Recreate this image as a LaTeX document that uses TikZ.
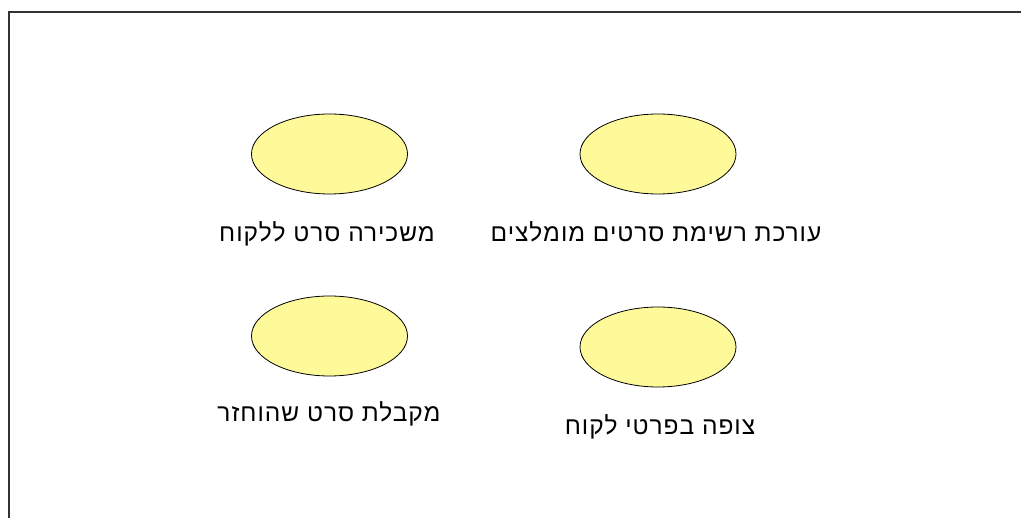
\documentclass[tikz,border=0pt]{standalone}
\usepackage{fontspec}
\newfontfamily\hebfont[Script=Hebrew,LetterSpace=4]{Liberation Sans}
\TeXXeTstate=1
\usetikzlibrary{shapes.geometric}
\begin{document}
\begin{tikzpicture}[x=1pt,y=-1pt,
  usecase/.style={ellipse,draw=black,line width=0.8pt,fill=yellow!40!white,
    minimum width=156pt,minimum height=80pt,inner sep=0pt},
  caption/.style={font=\hebfont\fontsize{24.5}{28}\selectfont,inner sep=0pt,anchor=base}]
  \useasboundingbox (0,0) rectangle (1021,518);
  % frame (top and left edges)
  \draw[line width=2.2pt,color=black!80] (1021,12) -- (9,12) -- (9,518);
  % use cases
  \node[usecase] (rent) at (329.5,154) {};
  \node[usecase] (list) at (658,154) {};
  \node[usecase] (ret) at (329.5,336) {};
  \node[usecase] (view) at (658,347) {};
  % labels
  \node[caption] (rentlbl) at (327,241.5) {\beginR משכירה סרט ללקוח\endR};
  \node[caption] (listlbl) at (656,241.5) {\beginR עורכת רשימת סרטים מומלצים\endR};
  \node[caption] (retlbl) at (329,421.5) {\beginR מקבלת סרט שהוחזר\endR};
  \node[caption] (viewlbl) at (660,435) {\beginR צופה בפרטי לקוח\endR};
\end{tikzpicture}
\end{document}
